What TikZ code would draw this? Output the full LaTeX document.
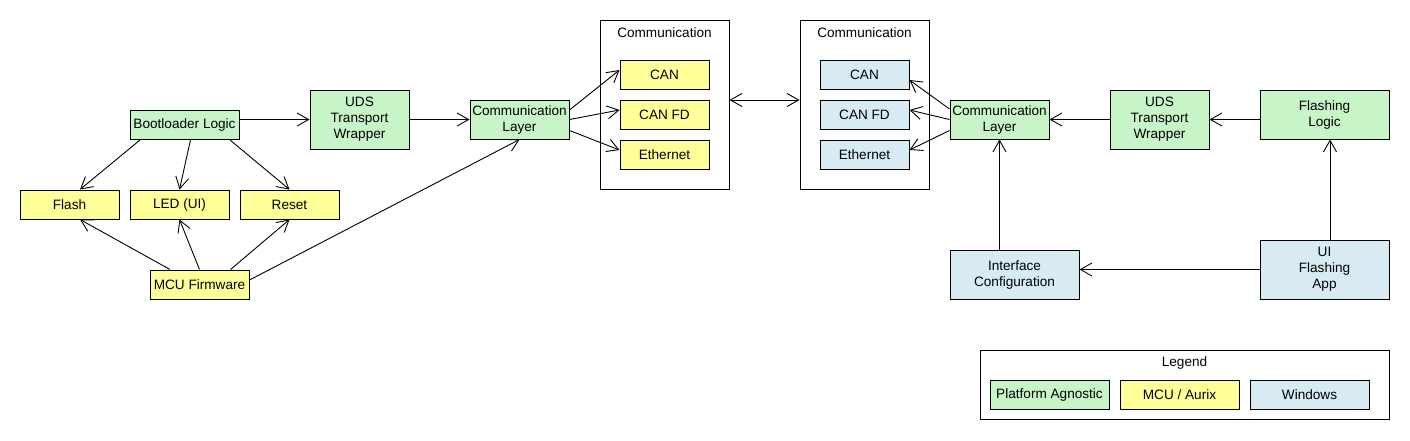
\documentclass[tikz,border=0pt]{standalone}
\usepackage{fontspec}
\setmainfont{Liberation Sans}
\usetikzlibrary{arrows.meta}
\definecolor{gagn}{HTML}{C8F5C8}
\definecolor{ymcu}{HTML}{FFFF99}
\definecolor{bwin}{HTML}{D8EBF2}
\begin{document}
\begin{tikzpicture}[x=1pt,y=-1pt,
  every node/.style={font=\fontsize{13.6}{16}\selectfont, inner sep=0pt, align=center},
  box/.style={draw=black, line width=1pt, rectangle},
  gbox/.style={box, fill=gagn},
  ybox/.style={box, fill=ymcu},
  bbox/.style={box, fill=bwin},
  grp/.style={box, fill=white},
  conn/.style={draw=black, line width=0.9pt, -{Straight Barb[length=11.5pt,width=13pt,line width=0.9pt]}},
  biconn/.style={draw=black, line width=0.9pt, {Straight Barb[length=11.5pt,width=13pt,line width=0.9pt]}-{Straight Barb[length=11.5pt,width=13pt,line width=0.9pt]}}
]
\useasboundingbox (0,0) rectangle (1410,440);
\fill[white] (0,0) rectangle (1410,440);

% left side
\node[gbox, minimum width=109pt, minimum height=29pt] (boot) at (184.5,125) {Bootloader Logic};
\node[ybox, minimum width=99pt, minimum height=29pt] (flash) at (69.5,204.5) {Flash};
\node[ybox, minimum width=99pt, minimum height=29pt] (led) at (179.5,204.5) {LED (UI)};
\node[ybox, minimum width=99pt, minimum height=29pt] (reset) at (289.5,204.5) {Reset};
\node[ybox, minimum width=99pt, minimum height=29pt] (mcu) at (199.5,284.5) {MCU Firmware};
\node[gbox, minimum width=99pt, minimum height=59pt] (udsL) at (359.5,119.5) {UDS\\Transport\\Wrapper};
\node[gbox, minimum width=99pt, minimum height=39pt] (commL) at (519.5,119.5) {Communication\\Layer};

\node[grp, minimum width=129pt, minimum height=169pt] (grpL) at (664.5,104.5) {};
\node (grpLt) at (664.5,33) {Communication};
\node[ybox, minimum width=89pt, minimum height=29pt] (canL) at (664.5,74.5) {CAN};
\node[ybox, minimum width=89pt, minimum height=29pt] (canfdL) at (664.5,114.5) {CAN FD};
\node[ybox, minimum width=89pt, minimum height=29pt] (ethL) at (664.5,154.5) {Ethernet};

% right side
\node[grp, minimum width=129pt, minimum height=169pt] (grpR) at (864.5,104.5) {};
\node (grpRt) at (864.5,33) {Communication};
\node[bbox, minimum width=89pt, minimum height=29pt] (canR) at (864.5,74.5) {CAN};
\node[bbox, minimum width=89pt, minimum height=29pt] (canfdR) at (864.5,114.5) {CAN FD};
\node[bbox, minimum width=89pt, minimum height=29pt] (ethR) at (864.5,154.5) {Ethernet};

\node[gbox, minimum width=99pt, minimum height=39pt] (commR) at (999.5,119.5) {Communication\\Layer};
\node[gbox, minimum width=99pt, minimum height=59pt] (udsR) at (1159.5,119.5) {UDS\\Transport\\Wrapper};
\node[gbox, minimum width=129pt, minimum height=49pt] (flog) at (1324.5,114.5) {Flashing\\Logic};
\node[bbox, minimum width=129pt, minimum height=49pt] (ifc) at (1014.5,274.5) {Interface\\Configuration};
\node[bbox, minimum width=129pt, minimum height=59pt] (ui) at (1324.5,269.5) {UI\\Flashing\\App};

% legend
\node[grp, minimum width=409pt, minimum height=69pt] (leg) at (1184.5,384.5) {};
\node (legt) at (1184.5,363) {Legend};
\node[gbox, minimum width=119pt, minimum height=29pt] (lpa) at (1049.5,394.5) {Platform Agnostic};
\node[ybox, minimum width=119pt, minimum height=29pt] (lmcu) at (1179.5,394.5) {MCU / Aurix};
\node[bbox, minimum width=119pt, minimum height=29pt] (lwin) at (1309.5,394.5) {Windows};

% connectors left
\draw[conn] ([yshift=5.5pt]boot.east) -- (udsL.west);
\draw[conn] (udsL.east) -- (commL.west);
\draw[conn] ([xshift=-44.5pt]boot.south) -- ([xshift=10.5pt]flash.north);
\draw[conn] ([xshift=6pt]boot.south) -- (led.north);
\draw[conn] ([xshift=45.5pt]boot.south) -- (reset.north);
\draw[conn] ([xshift=-29.5pt]mcu.north) -- ([xshift=10.5pt]flash.south);
\draw[conn] (mcu.north) -- (led.south);
\draw[conn] ([xshift=31pt]mcu.north) -- (reset.south);
\draw[conn] ([yshift=4.5pt]mcu.east) -- (commL.south);
\draw[conn] ([yshift=9.5pt]commL.east) -- ([yshift=4.5pt]canL.west);
\draw[conn] (commL.east) -- ([yshift=4.5pt]canfdL.west);
\draw[conn] ([yshift=-11pt]commL.east) -- ([yshift=4.5pt]ethL.west);

% middle
\draw[biconn] ([yshift=4.5pt]grpL.east) -- ([yshift=4.5pt]grpR.west);

% connectors right
\draw[conn] ([yshift=10.5pt]commR.west) -- ([yshift=-5.5pt]canR.east);
\draw[conn] (commR.west) -- ([yshift=4.5pt]canfdR.east);
\draw[conn] ([yshift=-11pt]commR.west) -- ([yshift=4.5pt]ethR.east);
\draw[conn] (udsR.west) -- (commR.east);
\draw[conn] (flog.west |- udsR.east) -- (udsR.east);
\draw[conn] ([xshift=5.5pt]ui.north) -- ([xshift=5.5pt]flog.south);
\draw[conn] (ui.west) -- (ifc.east |- ui.west);
\draw[conn] (ifc.north -| commR.south) -- (commR.south);
\end{tikzpicture}
\end{document}
